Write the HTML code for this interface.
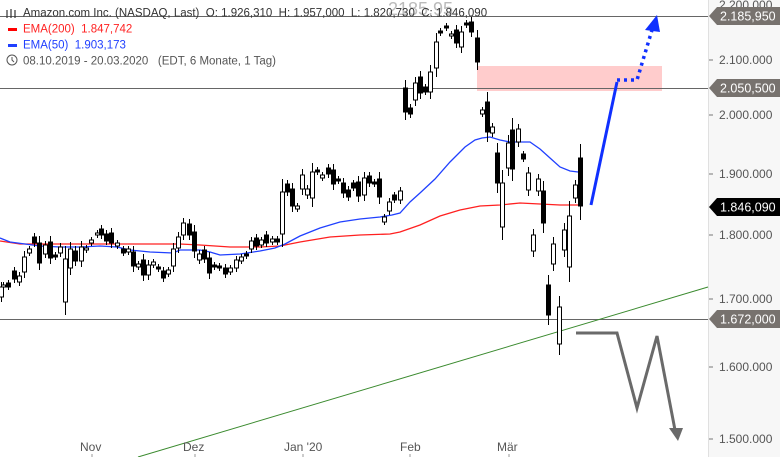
<!DOCTYPE html>
<html><head><meta charset="utf-8"><style>
html,body{margin:0;padding:0;background:#fff;}
body{width:780px;height:457px;overflow:hidden;position:relative;font-family:"Liberation Sans",sans-serif;}
svg{position:absolute;left:0;top:0;}
text{white-space:pre;}
</style></head><body>
<svg id="s" width="780" height="457" xmlns="http://www.w3.org/2000/svg" font-family="Liberation Sans, sans-serif">
<rect x="709" y="0" width="71" height="457" fill="#f7f7f7"/>
<line x1="708.5" y1="0" x2="708.5" y2="457" stroke="#e0e0e0"/>
<rect x="477" y="66" width="185" height="25" fill="#ffcccc"/>
<g stroke="#666" stroke-width="1">
<line x1="0" y1="16.5" x2="708" y2="16.5"/>
<line x1="0" y1="88.5" x2="708" y2="88.5"/>
<line x1="0" y1="319.5" x2="708" y2="319.5"/>
</g>
<line x1="138" y1="457" x2="708" y2="287" stroke="#3a8a2e" stroke-width="1"/>
<polyline fill="none" stroke="#ff2020" stroke-width="1.3" points="0,241 20,244 50,244 100,244 150,244 180,244 200,245 230,247 260,247 280,246 300,242 330,237 360,235 390,234 400,232 420,225 440,216 460,210 480,206 500,205 520,203 540,204 560,205 580,205"/>
<polyline fill="none" stroke="#2040ff" stroke-width="1.3" points="0,238 10,242 25,244 40,246 60,247 80,247 100,246 117,247 130,250 150,252 173,253 180,250 200,250 210,252 220,255 240,254 260,251 275,248 285,244 300,236 320,228 340,222 360,219 380,217 392,215 400,213 410,202 420,193 435,179 450,162 465,147 475,140 482,138 490,137 500,140 510,142 520,142 530,142 540,149 550,158 560,167 570,171 578,172"/>
<g id="c"></g>
<line x1="591" y1="205" x2="617" y2="82" stroke="#1030ff" stroke-width="3"/>
<polyline fill="none" stroke="#1030ff" stroke-width="3.5" stroke-dasharray="3,4" points="617,80 637,80 652,30"/>
<polygon points="645,30 660,32 657,15" fill="#1030ff"/>
<polyline fill="none" stroke="#6a6a6a" stroke-width="3" points="576,333 617,333 637,408 657,336 675,430"/>
<polygon points="669,428 683,428 678,441" fill="#6a6a6a"/>
<g font-size="12" fill="#555">
<text x="719" y="9">2.200.000</text>
<text x="719" y="64">2.100.000</text>
<text x="719" y="119">2.000.000</text>
<text x="719" y="178">1.900.000</text>
<text x="719" y="239">1.800.000</text>
<text x="719" y="303">1.700.000</text>
<text x="719" y="371">1.600.000</text>
<text x="719" y="443">1.500.000</text>
</g>
<g stroke="#777"><line x1="709" y1="60" x2="713" y2="60"/><line x1="709" y1="115" x2="713" y2="115"/><line x1="709" y1="174" x2="713" y2="174"/><line x1="709" y1="235" x2="713" y2="235"/><line x1="709" y1="299" x2="713" y2="299"/><line x1="709" y1="367" x2="713" y2="367"/><line x1="709" y1="439" x2="713" y2="439"/></g>
<g font-size="12.5">
<polygon points="709,16 717,7 780,7 780,25 717,25" fill="#77726e"/><text x="720" y="20.5" fill="#fff">2.185,950</text>
<polygon points="709,88 717,79 780,79 780,97 717,97" fill="#77726e"/><text x="720" y="92.5" fill="#fff">2.050,500</text>
<polygon points="709,207 717,198 780,198 780,216 717,216" fill="#000"/><text x="720" y="211.5" fill="#fff">1.846,090</text>
<polygon points="709,319 717,310 780,310 780,328 717,328" fill="#77726e"/><text x="720" y="323.5" fill="#fff">1.672,000</text>
</g>
<g font-size="12" fill="#555">
<text x="80" y="451">Nov</text><text x="183" y="451">Dez</text><text x="284" y="451">Jan '20</text><text x="400" y="451">Feb</text><text x="497" y="451">Mär</text>
</g>
<g stroke="#999"><line x1="92" y1="454" x2="92" y2="457"/><line x1="195" y1="454" x2="195" y2="457"/><line x1="303" y1="454" x2="303" y2="457"/><line x1="410" y1="454" x2="410" y2="457"/><line x1="509" y1="454" x2="509" y2="457"/></g>
<text x="388" y="15" font-size="18" fill="#bbb">2185,95</text>
<g font-size="11.5" fill="#333">
<g stroke="#333" stroke-width="1.2"><line x1="7" y1="10" x2="7" y2="18"/><line x1="11" y1="9" x2="11" y2="18"/><line x1="15" y1="10" x2="15" y2="18"/></g>
<text x="23" y="16.5">Amazon.com Inc. (NASDAQ, Last)  O: 1.926,310  H: 1.957,000  L: 1.820,730  C: 1.846,090</text>
<rect x="8" y="28" width="9" height="3" fill="#f00"/><text x="23" y="32.5" fill="#f22">EMA(200)  1.847,742</text>
<rect x="8" y="44" width="9" height="3" fill="#2040ff"/><text x="23" y="48.5" fill="#2040ff">EMA(50)  1.903,173</text>
<circle cx="12" cy="60" r="5" fill="none" stroke="#555"/><polyline points="12,57 12,60 14,62" fill="none" stroke="#555"/>
<text x="23" y="64.5" fill="#555">08.10.2019 - 20.03.2020   (EDT, 6 Monate, 1 Tag)</text>
</g>
</svg>
<script>
var d=[[1,287,297,0],[3,285,287,0],[8,283,287,1],[14,271,279,1],[19,276,282,0],[24,257,272,0],[29,249,253,0],[34,237,243,1],[39,243,263,1],[45,245,254,0],[50,242,258,1],[55,255,257,1],[60,247,253,0],[65,259,302,0],[70,249,268,0],[75,251,261,1],[81,247,261,0],[86,248,250,0],[91,240,243,0],[97,233,235,0],[101,229,235,1],[106,234,241,1],[111,233,243,1],[117,243,246,0],[123,249,253,1],[128,249,252,0],[133,252,266,1],[138,264,267,0],[143,260,275,1],[148,265,275,0],[153,262,265,0],[158,267,269,1],[163,271,278,1],[168,270,274,0],[173,249,266,0],[178,237,248,0],[183,223,235,0],[189,224,235,1],[194,232,251,1],[199,254,260,0],[204,250,259,1],[209,258,273,1],[214,265,267,1],[219,266,268,1],[225,268,274,1],[230,268,272,0],[236,260,268,0],[241,257,261,0],[246,254,256,1],[251,241,249,0],[256,238,246,1],[261,240,245,0],[266,235,243,1],[272,239,242,0],[277,239,242,1],[282,192,234,0],[287,184,192,1],[292,189,206,1],[297,206,209,0],[302,175,189,0],[307,189,195,0],[312,172,198,0],[317,170,172,1],[322,175,178,0],[328,168,174,1],[333,170,184,1],[338,179,181,1],[343,183,193,1],[348,190,197,1],[353,183,188,1],[358,182,196,1],[364,178,195,0],[369,176,183,1],[374,182,184,1],[379,179,197,1],[384,217,222,0],[389,202,211,0],[394,195,200,1],[400,191,200,0],[405,88,112,1],[410,108,114,1],[415,83,100,0],[420,77,93,1],[425,87,92,1],[430,72,92,0],[436,42,68,0],[440,31,33,1],[446,26,28,1],[451,34,36,0],[456,30,43,1],[461,32,47,0],[466,23,25,1],[471,22,32,1],[477,38,62,1],[482,110,114,0],[487,102,132,1],[492,127,133,0],[497,153,183,1],[502,183,227,0],[508,143,168,0],[512,130,169,1],[518,129,142,0],[523,154,159,1],[528,173,190,0],[533,235,251,0],[538,179,191,0],[543,191,223,1],[548,285,315,1],[553,244,264,0],[559,307,344,0],[564,230,250,0],[569,216,267,0],[575,185,198,0],[580,158,206,1]];
var g=document.getElementById('c'),h='';
d.forEach(function(c,i){var x=c[0],t=c[1],b=c[2],w=Math.max(3,Math.round((b-t)*0.25)+2);
h+='<line x1="'+(x+0.5)+'" y1="'+(t-w)+'" x2="'+(x+0.5)+'" y2="'+(b+w)+'" stroke="#000" stroke-width="1"/>';
h+='<rect x="'+(x-1.5)+'" y="'+t+'" width="4" height="'+Math.max(1,b-t)+'" fill="'+(c[3]?'#000':'#fff')+'" stroke="#000" stroke-width="1"/>';});
g.innerHTML=h;
</script>
</body></html>
